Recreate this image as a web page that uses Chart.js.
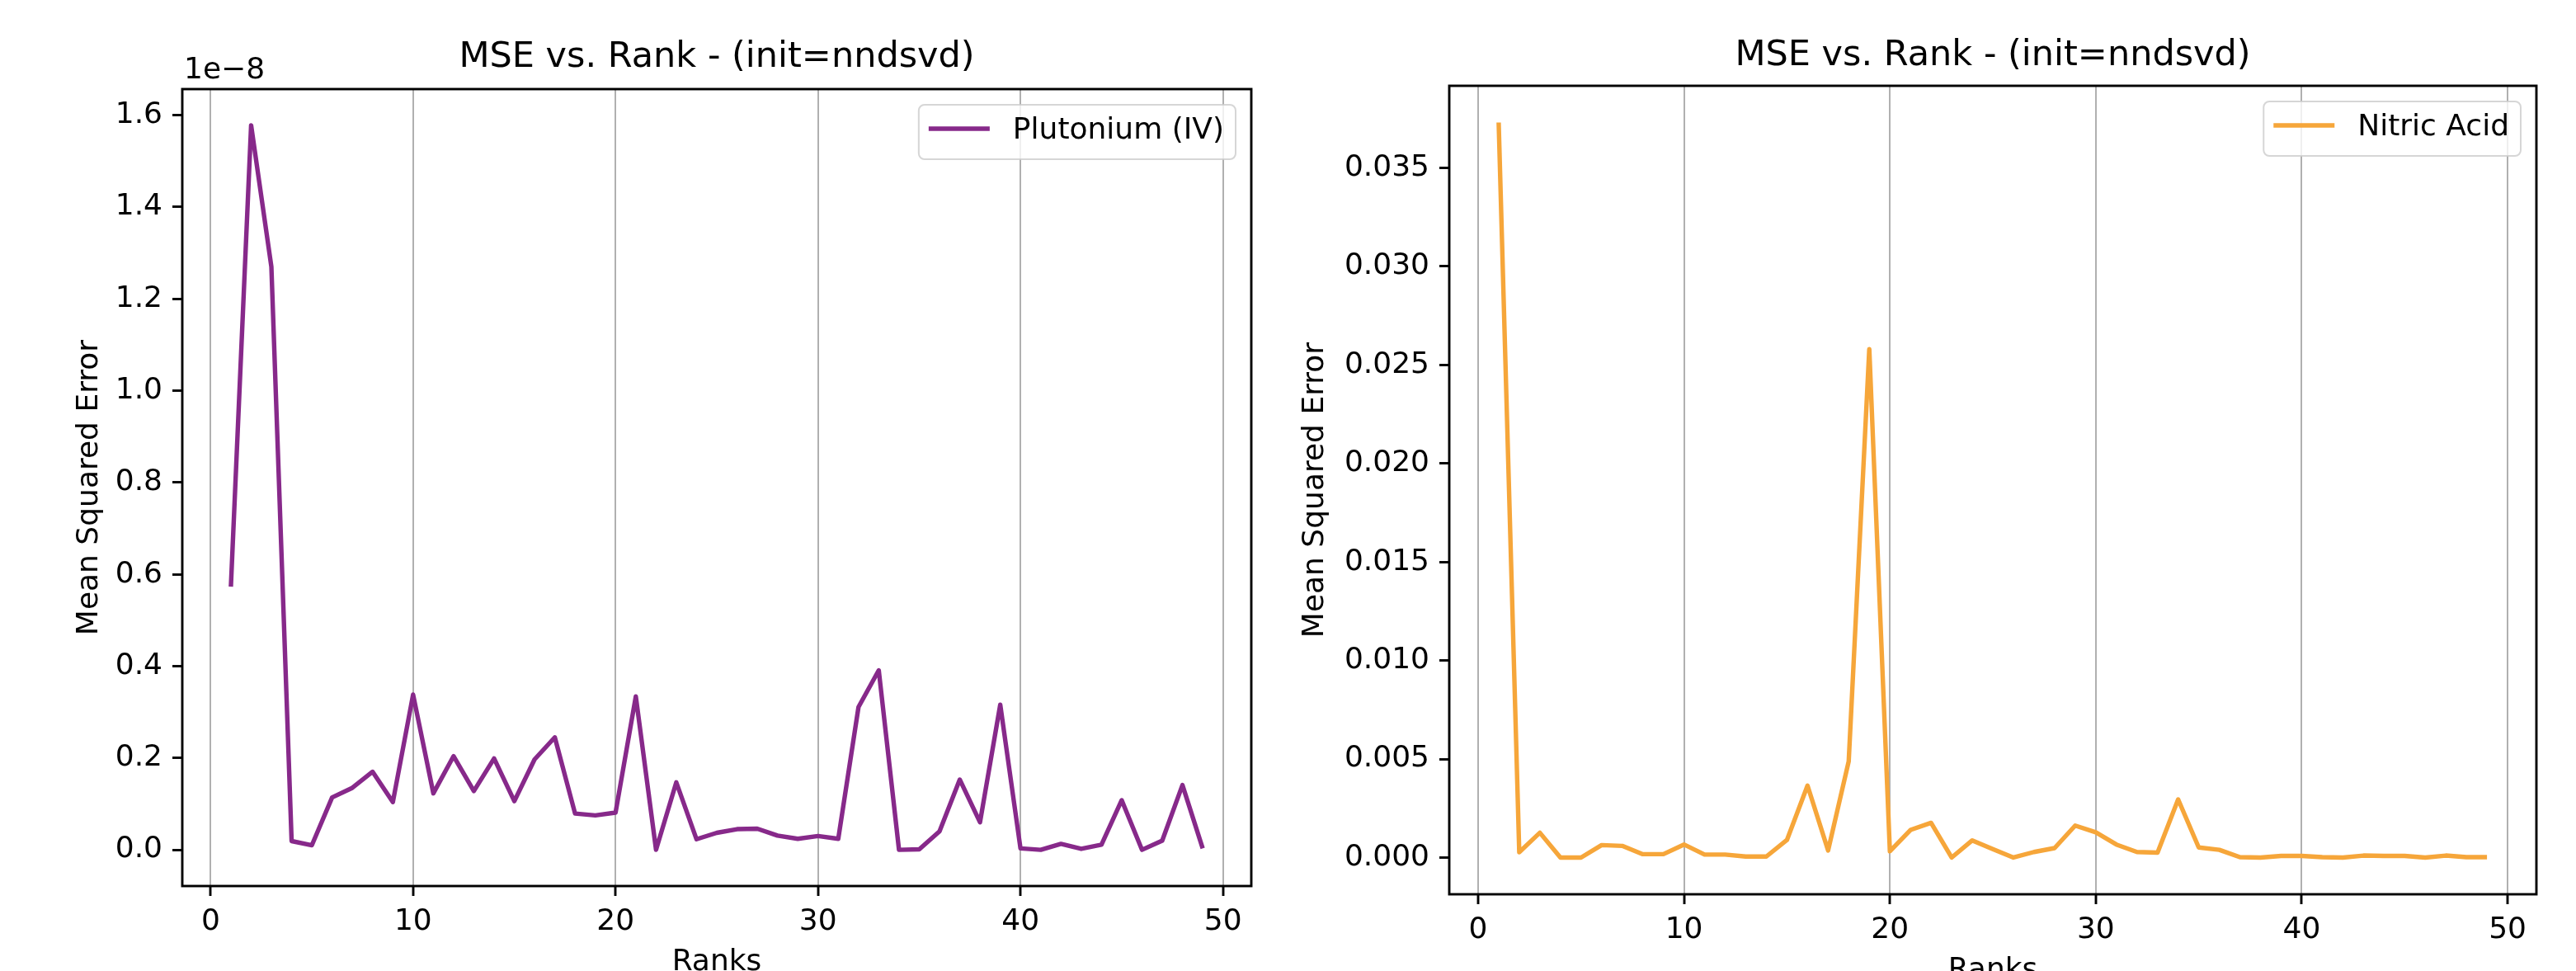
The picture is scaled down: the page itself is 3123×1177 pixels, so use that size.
<!DOCTYPE html>
<html>
<head>
<meta charset="utf-8">
<title>MSE vs. Rank</title>
<script src="https://cdn.jsdelivr.net/npm/chart.js@4.4.1/dist/chart.umd.min.js"></script>
<style>
  html, body { margin: 0; padding: 0; background: #fff; overflow: hidden; }
  .panel { position: absolute; top: 0; height: 1200px; }
  #left { left: 0; width: 1560px; }
  #right { left: 1540px; width: 1583px; }
</style>
</head>
<body>
<div class="panel" id="left"><canvas id="puChart"></canvas></div>
<div class="panel" id="right"><canvas id="naChart"></canvas></div>
<script>
// ranks on the x axis
const ranks = [1, 2, 3, 4, 5, 6, 7, 8, 9, 10, 11, 12, 13, 14, 15, 16, 17, 18, 19, 20,
    21, 22, 23, 24, 25, 26, 27, 28, 29, 30, 31, 32, 33, 34, 35, 36, 37, 38, 39, 40,
    41, 42, 43, 44, 45, 46, 47, 48, 49];

// MSE per rank, Plutonium (IV)
const plutonium = [0.573e-8, 1.578e-8, 1.270e-8, 0.019e-8, 0.010e-8, 0.114e-8, 0.135e-8, 0.170e-8, 0.104e-8, 0.338e-8,
    0.123e-8, 0.204e-8, 0.128e-8, 0.199e-8, 0.106e-8, 0.197e-8, 0.245e-8, 0.079e-8, 0.075e-8, 0.081e-8,
    0.334e-8, 0.000e-8, 0.147e-8, 0.023e-8, 0.037e-8, 0.045e-8, 0.046e-8, 0.031e-8, 0.024e-8, 0.030e-8,
    0.024e-8, 0.311e-8, 0.391e-8, 0.000e-8, 0.001e-8, 0.040e-8, 0.153e-8, 0.060e-8, 0.316e-8, 0.003e-8,
    0.000e-8, 0.013e-8, 0.002e-8, 0.011e-8, 0.108e-8, 0.000e-8, 0.020e-8, 0.141e-8, 0.003e-8];

// MSE per rank, Nitric Acid
const nitricAcid = [0.0373, 0.00027, 0.00126, 0.00000, 0.00000, 0.00063, 0.00059, 0.00017, 0.00017, 0.00066,
    0.00015, 0.00015, 0.00005, 0.00005, 0.00089, 0.00365, 0.00036, 0.00488, 0.0258, 0.00032,
    0.00140, 0.00176, 0.00000, 0.00087, 0.00043, 0.00000, 0.00028, 0.00048, 0.00162, 0.00128,
    0.00066, 0.00028, 0.00025, 0.00295, 0.00051, 0.00039, 0.00002, 0.00000, 0.00008, 0.00008,
    0.00002, 0.00000, 0.00010, 0.00008, 0.00008, 0.00000, 0.00010, 0.00002, 0.00002];

// tick values
const rankTicks = [0, 10, 20, 30, 40, 50];
const puTicks = [0.0e-8, 0.2e-8, 0.4e-8, 0.6e-8, 0.8e-8, 1.0e-8, 1.2e-8, 1.4e-8, 1.6e-8];
const naTicks = [0.000, 0.005, 0.010, 0.015, 0.020, 0.025, 0.030, 0.035];

const FONT = '"DejaVu Sans", sans-serif';
const FS = 36;      // 10pt
const TITLE_FS = 43; // 12pt
const SPINE = 2.9;

Chart.defaults.font.family = FONT;
Chart.defaults.color = '#000';

// matplotlib style autoscale: 5% margin
function padRange(vals) {
    const lo = Math.min(...vals), hi = Math.max(...vals);
    const m = (hi - lo) * 0.05;
    return [lo - m, hi + m];
}

// spines, legend box, title, offset text
const mplDecor = {
    id: 'mplDecor',
    afterDatasetsDraw(chart, args, opts) {
        const { ctx, chartArea: a } = chart;
        ctx.save();
        ctx.strokeStyle = '#000';
        ctx.lineWidth = SPINE;
        ctx.strokeRect(a.left, a.top, a.right - a.left, a.bottom - a.top);

        // legend in the upper right corner
        const ds = chart.data.datasets[0];
        ctx.font = `${FS}px ${FONT}`;
        const tw = ctx.measureText(ds.label).width;
        const w = 14 + 72 + 28 + tw + 14;
        const h = 66;
        const x0 = a.right - 19 - w, y0 = a.top + 19;
        ctx.beginPath();
        ctx.roundRect(x0, y0, w, h, 7);
        ctx.fillStyle = 'rgba(255,255,255,0.8)';
        ctx.fill();
        ctx.strokeStyle = 'rgba(204,204,204,0.8)';
        ctx.lineWidth = 2;
        ctx.stroke();
        ctx.beginPath();
        ctx.moveTo(x0 + 12, y0 + 29);
        ctx.lineTo(x0 + 86, y0 + 29);
        ctx.strokeStyle = ds.borderColor;
        ctx.lineWidth = ds.borderWidth;
        ctx.stroke();
        ctx.fillStyle = '#000';
        ctx.textAlign = 'left';
        ctx.textBaseline = 'middle';
        ctx.fillText(ds.label, x0 + 114, y0 + 32);
        ctx.restore();
    },
    afterDraw(chart, args, opts) {
        const { ctx, chartArea: a } = chart;
        ctx.save();
        ctx.fillStyle = '#000';
        ctx.textBaseline = 'alphabetic';
        ctx.font = `${TITLE_FS}px ${FONT}`;
        ctx.textAlign = 'center';
        ctx.fillText(opts.title, (a.left + a.right) / 2, a.top - opts.titlePad);
        if (opts.offsetText) {
            ctx.font = `${FS}px ${FONT}`;
            ctx.textAlign = 'left';
            ctx.fillText(opts.offsetText, a.left + 2, a.top - 13);
        }
        ctx.restore();
    }
};

function makeChart(canvasId, label, values, color, yTicks, fmt, geom) {
    const [xmin, xmax] = padRange(ranks);
    const [ymin, ymax] = padRange(values);
    return new Chart(document.getElementById(canvasId), {
        type: 'line',
        data: {
            datasets: [{
                label: label,
                data: ranks.map((r, i) => ({ x: r, y: values[i] })),
                borderColor: color,
                borderWidth: 5.4,
                borderJoinStyle: 'round',
                pointRadius: 0,
                tension: 0,
                fill: false
            }]
        },
        options: {
            responsive: true,
            maintainAspectRatio: false,
            devicePixelRatio: 1,
            animation: false,
            layout: { padding: { top: geom.top, right: geom.right, left: 0, bottom: 0 } },
            plugins: {
                legend: { display: false },
                tooltip: { enabled: false },
                title: { display: false },
                mplDecor: { title: 'MSE vs. Rank - (init=nndsvd)', titlePad: geom.titlePad, offsetText: geom.offsetText }
            },
            scales: {
                x: {
                    type: 'linear',
                    min: xmin,
                    max: xmax,
                    afterBuildTicks: s => { s.ticks = rankTicks.map(v => ({ value: v })); },
                    afterFit: s => { s.height = geom.xHeight; },
                    border: { display: false },
                    grid: { color: '#b0b0b0', lineWidth: 2, tickColor: '#000', tickWidth: SPINE, tickLength: 12 },
                    ticks: { font: { size: FS }, padding: 10, maxRotation: 0, autoSkip: false, callback: v => String(v) },
                    title: { display: true, text: 'Ranks', font: { size: FS }, padding: { top: 0, bottom: geom.xTitlePad } }
                },
                y: {
                    type: 'linear',
                    min: ymin,
                    max: ymax,
                    afterBuildTicks: s => { s.ticks = yTicks.map(v => ({ value: v })); },
                    afterFit: s => { s.width = geom.yWidth; },
                    border: { display: false },
                    grid: { drawOnChartArea: false, tickColor: '#000', tickWidth: SPINE, tickLength: 12 },
                    ticks: { font: { size: FS }, padding: 12, autoSkip: false, callback: fmt },
                    title: { display: true, text: 'Mean Squared Error', font: { size: FS }, padding: { top: geom.yTitlePad, bottom: 0 } }
                }
            }
        },
        plugins: [mplDecor]
    });
}

makeChart('puChart', 'Plutonium (IV)', plutonium, '#87298a', puTicks,
    v => (v * 1e8).toFixed(1),
    { top: 108, right: 43, yWidth: 221, xHeight: 126, xTitlePad: 12, yTitlePad: 87, titlePad: 27, offsetText: '1e\u22128' });

makeChart('naChart', 'Nitric Acid', nitricAcid, '#f6a63a', naTicks,
    v => v.toFixed(3),
    { top: 104, right: 48, yWidth: 217, xHeight: 116, xTitlePad: 2, yTitlePad: 33, titlePad: 25, offsetText: null });
</script>
</body>
</html>
